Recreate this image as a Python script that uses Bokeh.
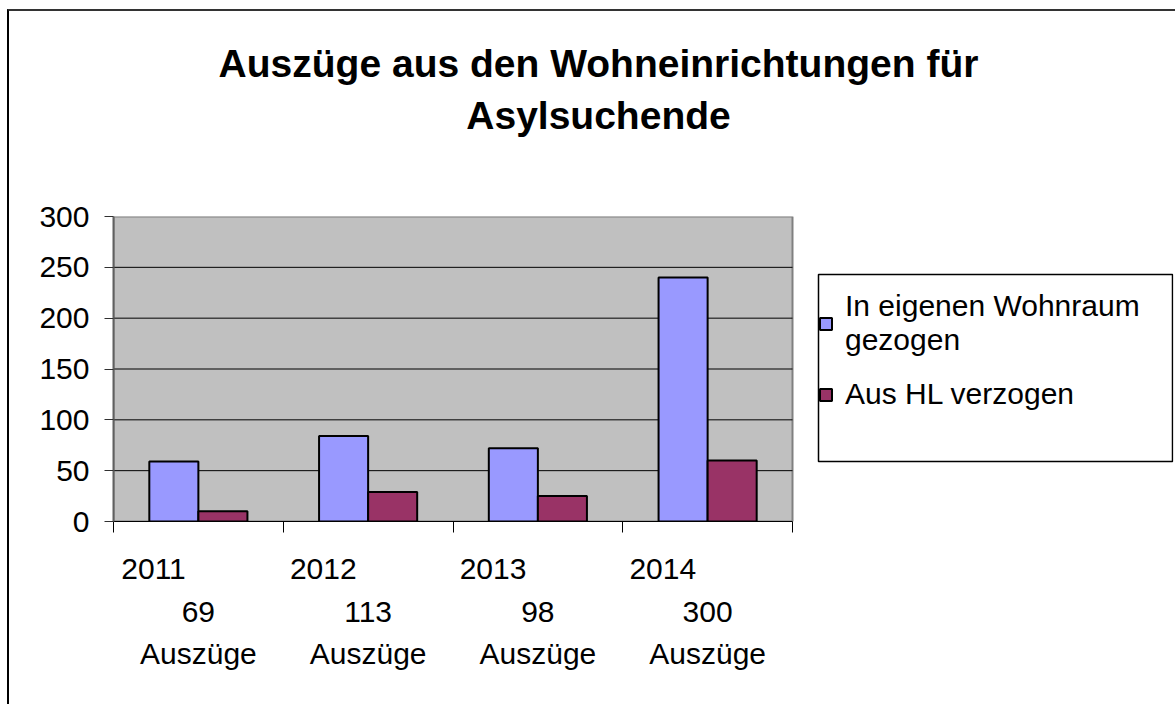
from bokeh.plotting import figure
from bokeh.models import (ColumnDataSource, FixedTicker, Legend, LegendItem, Range1d,
                          LinearAxis, Div, BoxAnnotation)
from bokeh.layouts import column
from bokeh.transform import dodge
from bokeh.embed import file_html
from bokeh.resources import INLINE

# ---- data ----
years = ["2011", "2012", "2013", "2014"]
eigener_wohnraum = [59, 84, 72, 240]
aus_hl = [10, 29, 25, 60]
totals = ["69", "113", "98", "300"]
unit_label = "Auszüge"
y_ticks = [0, 50, 100, 150, 200, 250, 300]
series_names = ["In eigenen Wohnraum\ngezogen", "Aus HL verzogen"]
series_colors = ["#9999FF", "#993366"]
title_lines = ["Auszüge aus den Wohneinrichtungen für", "Asylsuchende"]

FONT = "Liberation Sans"
TOTAL_W, TOTAL_H = 1166, 693
DIV_H = 150
FIG_H = TOTAL_H - DIV_H
OX, OY = 9, 11 + DIV_H          # page offset of the figure canvas

# page-pixel layout of the reference
AREA_L, AREA_R, AREA_T, AREA_B = 113, 792, 216, 521
FRAME_R = 1173
LEG_L, LEG_R, LEG_T, LEG_B = 818, 1172, 274, 461

n = len(years)
y_max = y_ticks[-1]
x_end = n * (FRAME_R - AREA_L) / (AREA_R - AREA_L)


def xd(px):
    return (px - AREA_L) / (AREA_R - AREA_L) * n


def yd(py):
    return (AREA_B - py) / (AREA_B - AREA_T) * y_max


src = ColumnDataSource(dict(
    year=years,
    center=[i + 0.5 for i in range(n)],
    a=eigener_wohnraum,
    b=aus_hl,
))

# ---- title ----
title_div = Div(
    text=('<div style="box-sizing:border-box;width:1166px;'
          'font-family:\'Liberation Sans\',Arial,sans-serif;'
          'font-weight:bold;font-size:39px;line-height:52px;text-align:center;'
          'padding-top:27px;padding-left:13px;color:#000;">'
          + "<br>".join(title_lines) + '</div>'),
    width=TOTAL_W, height=DIV_H, margin=0)

# ---- chart ----
p = figure(width=TOTAL_W, height=FIG_H, output_backend="svg", toolbar_location=None,
           x_range=Range1d(0, x_end), y_range=Range1d(0, y_max),
           x_axis_location=None,
           min_border_left=AREA_L - OX, min_border_right=TOTAL_W - (FRAME_R - OX),
           min_border_top=AREA_T - OY, min_border_bottom=FIG_H - (AREA_B - OY),
           margin=0)

p.background_fill_color = "white"
p.border_fill_color = "white"
p.outline_line_color = None
p.xgrid.visible = False
p.ygrid.visible = False

# plot area (grey) with its frame
p.add_layout(BoxAnnotation(left=0, right=n, bottom=0, top=y_max, level="underlay",
                           fill_color="#C0C0C0", fill_alpha=1,
                           line_color="#808080", line_alpha=1, line_width=2))
# horizontal gridlines across the plot area
inner = y_ticks[1:-1]
p.segment(x0=[0] * len(inner), x1=[n] * len(inner), y0=inner, y1=inner,
          line_color="black", line_width=1)

bw = 0.289
r1 = p.vbar(x=dodge("center", -bw / 2, range=p.x_range), top="a", width=bw, source=src,
            fill_color=series_colors[0], line_color="black", line_width=2)
r2 = p.vbar(x=dodge("center", bw / 2, range=p.x_range), top="b", width=bw, source=src,
            fill_color=series_colors[1], line_color="black", line_width=2)

p.yaxis.ticker = FixedTicker(ticks=y_ticks)
p.yaxis.major_label_text_font = FONT
p.yaxis.major_label_text_font_size = "30px"
p.yaxis.major_label_text_color = "black"
p.yaxis.major_tick_out = 9
p.yaxis.major_tick_in = 0
p.yaxis.major_label_standoff = 15
p.yaxis.minor_tick_line_color = None
p.yaxis.axis_line_color = "#606060"
p.yaxis.axis_line_width = 2
p.yaxis.major_tick_line_color = "#303030"

year_pos = [i + 0.236 for i in range(n)]
center_pos = [i + 0.5 for i in range(n)]

ax_year = LinearAxis(ticker=FixedTicker(ticks=year_pos, minor_ticks=list(range(n + 1))),
                     bounds=(0, n),
                     major_label_overrides={t: y for t, y in zip(year_pos, years)},
                     major_label_text_font=FONT, major_label_text_font_size="30px",
                     major_label_text_color="black",
                     major_tick_line_color=None, major_tick_out=11, major_tick_in=0,
                     minor_tick_line_color="black", minor_tick_out=11, minor_tick_in=0,
                     major_label_standoff=26,
                     axis_line_color="black", axis_line_width=1)
ax_tot = LinearAxis(ticker=FixedTicker(ticks=center_pos), bounds=(0, n),
                    major_label_overrides={t: v for t, v in zip(center_pos, totals)},
                    major_label_text_font=FONT, major_label_text_font_size="30px",
                    major_label_text_color="black",
                    major_tick_line_color=None, major_tick_out=0, major_tick_in=0,
                    minor_tick_line_color=None, axis_line_color=None,
                    major_label_standoff=20)
ax_unit = LinearAxis(ticker=FixedTicker(ticks=center_pos), bounds=(0, n),
                     major_label_overrides={t: unit_label for t in center_pos},
                     major_label_text_font=FONT, major_label_text_font_size="30px",
                     major_label_text_color="black",
                     major_tick_line_color=None, major_tick_out=0, major_tick_in=0,
                     minor_tick_line_color=None, axis_line_color=None,
                     major_label_standoff=12)
p.add_layout(ax_year, "below")
p.add_layout(ax_tot, "below")
p.add_layout(ax_unit, "below")

# ---- legend box + legend ----
p.add_layout(BoxAnnotation(left=xd(LEG_L), right=xd(LEG_R), bottom=yd(LEG_B), top=yd(LEG_T),
                           fill_color="white", fill_alpha=1,
                           line_color="black", line_alpha=1, line_width=1.5))
legend = Legend(items=[LegendItem(label=series_names[0], renderers=[r1]),
                       LegendItem(label=series_names[1], renderers=[r2])],
                location=(LEG_L - AREA_L, 110), glyph_width=15, glyph_height=15,
                label_text_font=FONT, label_text_font_size="30px",
                label_text_color="black", label_text_line_height=1.4,
                label_standoff=12, padding=12, spacing=20, margin=0,
                border_line_color=None, background_fill_alpha=0)
p.add_layout(legend)

layout = column(title_div, p, spacing=0,
                styles={"margin-left": "7px", "margin-top": "9px",
                        "border-left": "2px solid #000", "border-top": "2px solid #333"})

open("out.html", "w").write(file_html(layout, INLINE))
